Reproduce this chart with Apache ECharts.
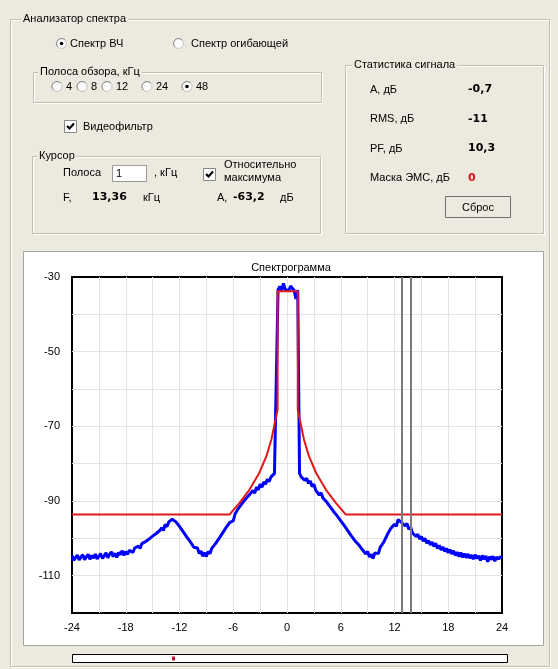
<!DOCTYPE html>
<html>
<head>
<meta charset="utf-8">
<script src="https://cdn.jsdelivr.net/npm/echarts@6/dist/echarts.min.js"></script>
<style>
  html, body { margin: 0; padding: 0; background: #ece9df; }
  #main { width: 558px; height: 669px; }
</style>
</head>
<body>
<div id="main"></div>
<script>
// Spectrum analyzer panel: RF spectrum (blue) with EMC mask (red) and cursor band.

// Spectrum samples, dB, one per bin starting at spanStart kHz
const spanStart = -24;
const binStep = 0.2;
const spectrumLevel = [
  -104.6, -105.9, -105.1, -104.5, -105.8, -105.0, -104.4, -105.7, -105.2, -104.3,
  -105.6, -104.6, -105.3, -104.2, -105.5, -104.8, -104.1, -105.4, -104.7, -103.9,
  -105.2, -104.3, -103.6, -104.9, -104.0, -105.1, -103.8, -104.4, -103.3, -104.6,
  -103.5, -104.3, -103.2, -102.9, -103.8, -102.6, -103.1, -102.1, -102.7, -101.4,
  -101.9, -100.9, -101.3, -100.2, -100.6, -99.4, -99.9, -98.7, -99.1, -97.9,
  -97.2, -97.9, -96.3, -96.9, -95.6, -96.1, -94.9, -94.4, -95.6, -95.4,
  -96.8, -96.5, -98.2, -97.9, -99.6, -99.3, -100.9, -100.8, -102.4, -102.1,
  -102.6, -104.1, -103.4, -104.8, -103.8, -104.9, -103.5, -104.1, -102.7, -103.0,
  -101.5, -101.9, -100.1, -100.3, -98.6, -98.9, -97.1, -97.4, -95.8, -96.0,
  -95.3, -93.5, -93.8, -91.9, -92.3, -90.6, -91.1, -89.4, -89.9, -88.3,
  -88.8, -87.2, -87.9, -86.3, -87.0, -85.5, -86.3, -84.9, -85.5, -84.2,
  -84.8, -83.6, -83.9, -82.6, -82.3, -33.4, -32.5, -33.6, -31.7, -33.3,
  -32.9, -33.7, -32.4, -31.9, -33.6, -35.9, -33.5, -82.6, -83.6, -83.2,
  -84.5, -83.9, -85.3, -84.6, -86.1, -85.5, -87.1, -86.8, -88.4, -87.8,
  -89.1, -88.7, -90.2, -89.8, -91.5, -91.0, -92.8, -92.4, -94.0, -93.7,
  -95.3, -94.9, -96.6, -96.3, -98.0, -97.6, -99.4, -99.0, -100.7, -100.2,
  -101.7, -101.4, -103.0, -102.6, -104.2, -103.5, -105.0, -104.3, -105.4, -103.9,
  -103.4, -104.1, -102.4, -102.9, -101.0, -100.9, -99.0, -98.9, -97.3, -97.7,
  -96.2, -96.8, -95.0, -94.6, -95.8, -95.3, -96.7, -96.0, -97.6, -97.0,
  -98.5, -98.0, -99.5, -98.9, -100.2, -99.5, -100.8, -100.0, -101.3, -100.6,
  -101.8, -101.0, -102.2, -101.3, -102.7, -101.9, -103.1, -102.3, -103.5, -102.7,
  -103.9, -103.0, -104.2, -103.3, -104.6, -103.7, -104.9, -103.8, -105.1, -104.1,
  -105.2, -104.2, -105.3, -104.5, -105.6, -104.4, -105.4, -104.7, -105.9, -104.6,
  -105.6, -104.7, -106.3, -104.9, -105.7, -104.8, -106.1, -105.0, -105.6, -104.9,
  -105.4
];

// EMC mask vertices
const maskFreq  = [-24, -6.4, -5.3, -4.2, -3.1, -2.3, -1.75, -1.35, -1.05, -1.05, 1.2, 1.2, 1.5, 1.9, 2.45, 3.25, 4.35, 5.45, 6.55, 24];
const maskLevel = [-93.6, -93.6, -90.5, -87, -82.5, -78, -73.6, -69, -65.5, -33.8, -33.8, -65.5, -69, -73.6, -78, -82.5, -87, -90.5, -93.6, -93.6];

// Cursor
const cursorFreq = 13.36;   // kHz
const cursorBand = 1;       // kHz
const cursorFreqText = '13,36';
const cursorLevelText = '-63,2';

// Controls
const spanOptions = ['4', '8', '12', '24', '48'];
const spanSelected = '48';
const statLabels = ['A, дБ', 'RMS, дБ', 'PF, дБ', 'Маска ЭМС, дБ'];
const statValues = ['-0,7', '-11', '10,3', '0'];

// Axes
const freqMin = -24, freqMax = 24, freqGrid = 3, freqLabelStep = 6;
const levelMin = -120, levelMax = -30, levelGrid = 10, levelLabelStep = 20;

const spectrumData = spectrumLevel.map((v, i) => [+(spanStart + i * binStep).toFixed(2), v]);
const maskData = maskFreq.map((f, i) => [f, maskLevel[i]]);

const FONT = '11px "Liberation Sans", Arial, sans-serif';
const BOLD = 'bold 11px "DejaVu Sans", sans-serif';
const BG = '#ece9df';
const LINE = '#c3bfb0';

const els = [];
function text(x, y, s, opt) {
  opt = opt || {};
  const style = {
    text: s, font: opt.font || FONT, fill: opt.color || '#000',
    align: opt.align || 'left', verticalAlign: 'middle'
  };
  if (opt.bg) { style.backgroundColor = BG; style.padding = [0, 2]; }
  els.push({ type: 'text', x: x, y: y, silent: true, z: 5, style: style });
}
function rect(x, y, w, h, style, z) {
  els.push({ type: 'rect', silent: true, z: z == null ? 1 : z, shape: { x: x, y: y, width: w, height: h }, style: style });
}
function line(x1, y1, x2, y2, color, w) {
  els.push({ type: 'line', silent: true, z: 2, shape: { x1: x1, y1: y1, x2: x2, y2: y2 }, style: { stroke: color, lineWidth: w || 1 } });
}
function groupBox(x1, y1, x2, y2, label, lx) {
  rect(x1 + 1.5, y1 + 1.5, x2 - x1, y2 - y1, { fill: null, stroke: '#ffffff', lineWidth: 1 }, 1);
  rect(x1 + 0.5, y1 + 0.5, x2 - x1, y2 - y1, { fill: null, stroke: LINE, lineWidth: 1 }, 1);
  text(lx, y1, label, { bg: true });
}
function radio(cx, cy, checked) {
  els.push({ type: 'circle', silent: true, z: 3, shape: { cx: cx, cy: cy, r: 5 }, style: { fill: '#fbfbfb', stroke: '#c4c4c4', lineWidth: 1 } });
  els.push({ type: 'arc', silent: true, z: 3, shape: { cx: cx, cy: cy, r: 5, startAngle: Math.PI * 0.75, endAngle: Math.PI * 1.75 }, style: { stroke: '#8a8a8a', lineWidth: 1, fill: null } });
  if (checked) {
    els.push({ type: 'circle', silent: true, z: 4, shape: { cx: cx, cy: cy, r: 1.8 }, style: { fill: '#000' } });
  }
}
function checkbox(x, y) {
  rect(x + 0.5, y + 0.5, 12, 12, { fill: '#fff', stroke: '#8a8a8a', lineWidth: 1 }, 3);
  line(x + 0.5, y + 0.5, x + 12.5, y + 0.5, '#6a6a6a', 1);
  line(x + 0.5, y + 0.5, x + 0.5, y + 12.5, '#6a6a6a', 1);
  els.push({ type: 'polyline', silent: true, z: 4, shape: { points: [[x + 3, y + 6], [x + 5.5, y + 8.5], [x + 10, y + 3.5]] }, style: { stroke: '#000', lineWidth: 2.2, fill: null } });
}

// Outer frame
groupBox(10, 19, 549, 666, 'Анализатор спектра', 21);
radio(61.5, 43.5, true);
text(70, 43.5, 'Спектр ВЧ');
radio(178.5, 43.5, false);
text(191, 43.5, 'Спектр огибающей');

// Span selector
groupBox(33, 72, 321, 102, 'Полоса обзора, кГц', 38);
const spanRadioX = [57, 82, 107, 147, 187];
spanOptions.forEach((s, i) => {
  radio(spanRadioX[i], 86.5, s === spanSelected);
  text(spanRadioX[i] + 9, 86.5, s);
});

// Video filter
checkbox(64, 120);
text(83, 126.5, 'Видеофильтр');

// Cursor group
groupBox(32, 156, 320, 233, 'Курсор', 37);
text(63, 173, 'Полоса');
rect(112.5, 165.5, 34, 16, { fill: '#fff', stroke: '#9a9a9a', lineWidth: 1 }, 3);
line(112.5, 165.5, 146.5, 165.5, '#6f6f6f', 1);
line(112.5, 165.5, 112.5, 181.5, '#6f6f6f', 1);
text(116, 173.5, String(cursorBand));
text(154, 173, ', кГц');
checkbox(203, 168);
text(224, 165, 'Относительно');
text(224, 178, 'максимума');
text(63, 197.5, 'F,');
text(92, 197.5, cursorFreqText, { font: BOLD });
text(143, 197.5, 'кГц');
text(217, 197.5, 'A,');
text(233, 197.5, cursorLevelText, { font: BOLD });
text(280, 197.5, 'дБ');

// Signal statistics
groupBox(345, 65, 543, 233, 'Статистика сигнала', 352);
const statY = [89.5, 119, 148.5, 178];
statLabels.forEach((s, i) => {
  text(370, statY[i], s);
  text(468, statY[i], statValues[i], { font: BOLD, color: i === 3 ? '#e01010' : '#000' });
});
rect(445.5, 196.5, 65, 21, { fill: BG, stroke: '#707070', lineWidth: 1 }, 3);
line(446.5, 197.5, 509.5, 197.5, '#ffffff', 1);
line(446.5, 197.5, 446.5, 216.5, '#ffffff', 1);
text(478, 207.5, 'Сброс', { align: 'center' });

// Chart panel
rect(23.5, 251.5, 520, 394, { fill: '#fff', stroke: '#a5a5a5', lineWidth: 1 }, -10);

// Position bar under the chart
rect(72.5, 654.5, 435, 8, { fill: '#fff', stroke: '#000', lineWidth: 1 }, 3);
rect(172, 656.5, 3, 4, { fill: '#c8102e' }, 4);

const chart = echarts.init(document.getElementById('main'), null, { renderer: 'canvas' });
chart.setOption({
  animation: false,
  backgroundColor: BG,
  title: {
    text: 'Спектрограмма', left: 286, top: 257, textAlign: 'center',
    textStyle: { fontSize: 11, fontWeight: 'normal', color: '#000', fontFamily: '"Liberation Sans", Arial, sans-serif' }
  },
  grid: {
    left: 72, top: 277, width: 430, height: 336,
    show: true, backgroundColor: '#fff', borderColor: '#000', borderWidth: 2
  },
  xAxis: {
    type: 'value', min: freqMin, max: freqMax, interval: freqGrid,
    axisLine: { show: false }, axisTick: { show: false },
    axisLabel: {
      margin: 9, fontSize: 11, color: '#000', fontFamily: '"Liberation Sans", Arial, sans-serif',
      formatter: v => (v % freqLabelStep === 0 ? String(v) : '')
    },
    splitLine: { show: true, showMinLine: false, showMaxLine: false, lineStyle: { color: '#e3e3e3', width: 1 } }
  },
  yAxis: {
    type: 'value', min: levelMin, max: levelMax, interval: levelGrid,
    axisLine: { show: false }, axisTick: { show: false },
    axisLabel: {
      margin: 12, fontSize: 11, color: '#000', fontFamily: '"Liberation Sans", Arial, sans-serif',
      formatter: v => ((v - levelMax) % levelLabelStep === 0 ? String(v) : '')
    },
    splitLine: { show: true, showMinLine: false, showMaxLine: false, lineStyle: { color: '#e3e3e3', width: 1 } }
  },
  graphic: { elements: els },
  series: [
    {
      name: 'Спектр', type: 'line', data: spectrumData, showSymbol: false, z: 2,
      lineStyle: { color: '#0000ff', width: 3 }
    },
    {
      name: 'Маска ЭМС', type: 'line', data: maskData, showSymbol: false, z: 3,
      lineStyle: { color: '#e01818', width: 2 }
    },
    {
      name: 'Курсор', type: 'line', data: [], z: 4,
      markLine: {
        silent: true, symbol: ['none', 'none'], animation: false,
        label: { show: false },
        lineStyle: { color: '#7a7a7a', width: 2, type: 'solid' },
        data: [{ xAxis: cursorFreq - cursorBand / 2 }, { xAxis: cursorFreq + cursorBand / 2 }]
      }
    }
  ]
});
</script>
</body>
</html>
